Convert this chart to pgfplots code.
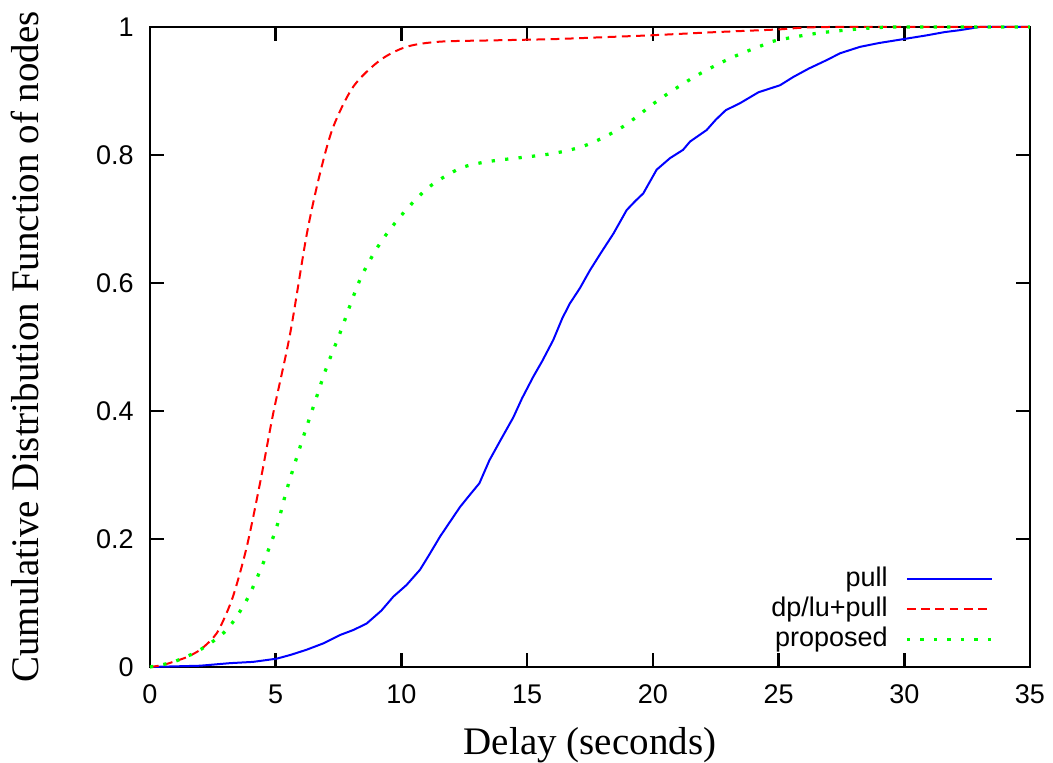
\documentclass[border=0pt]{standalone}
\usepackage{fontspec}
\setmainfont{Liberation Serif}
\setsansfont{Liberation Sans}
\usepackage{pgfplots}
\pgfplotsset{compat=1.18}
\begin{document}
\begin{tikzpicture}
\path[use as bounding box] (-60pt,-38.4pt) rectangle (361.2pt,266.8pt);
\begin{axis}[
  at={(0pt,0pt)}, anchor=south west,
  scale only axis, width=352pt, height=256pt,
  xmin=0, xmax=35, ymin=0, ymax=1,
  xtick={0,5,10,15,20,25,30,35},
  ytick={0,0.2,0.4,0.6,0.8,1},
  tick align=inside, major tick length=5.6pt,
  axis line style={line width=1.1pt},
  every tick/.style={black, line width=1pt},
  /pgf/number format/assume math mode=true,
  ticklabel style={font=\sffamily\fontsize{10.8}{12}\selectfont},
  xticklabel style={yshift=-3.5pt},
  yticklabel style={xshift=-3pt},
  xlabel={Delay (seconds)},
  ylabel={Cumulative Distribution Function of nodes},
  every axis x label/.style={at={(axis description cs:0.5,-0.122)}, anchor=center, font=\fontsize{15.6}{18}\selectfont},
  every axis y label/.style={at={(axis description cs:-0.142,0.5)}, anchor=center, rotate=90, font=\fontsize{15.6}{18}\selectfont},
  clip=false,
  legend plot pos=right,
  legend cell align=right,
  legend style={at={(rel axis cs:1,0)}, anchor=south east, xshift=-11.4pt, yshift=2.8pt,
    draw=none, fill=none, row sep=0pt, column sep=6pt,
    nodes={font=\sffamily\fontsize{10.8}{12}\selectfont, inner sep=1pt, text height=7.8pt, text depth=2.2pt}},
  legend image code/.code={\draw[#1] (0pt,0pt) -- (34pt,0pt);},
]
\addplot[color={rgb,255:red,0;green,0;blue,255}, line width=0.8pt] coordinates {
(0,0) (1,0.001) (2,0.002) (3.18,0.006) (4.1,0.008) (5.04,0.013) (5.6,0.019) (6.23,0.027)
(6.9,0.037) (7.56,0.05) (8.1,0.058) (8.62,0.068) (9.2,0.088) (9.68,0.11) (10.2,0.128) (10.74,0.152)
(11.1,0.175) (11.54,0.204) (11.9,0.225) (12.33,0.25) (12.7,0.268) (13.1,0.287) (13.5,0.323)
(13.95,0.355) (14.45,0.39) (14.8,0.42) (15.25,0.454) (15.6,0.478) (16.04,0.511) (16.4,0.545) (16.7,0.568)
(17.1,0.592) (17.5,0.62) (17.95,0.648) (18.43,0.677) (18.96,0.714) (19.3,0.728) (19.62,0.74)
(20.15,0.777) (20.68,0.795) (21.2,0.808) (21.48,0.821) (22.14,0.839) (22.5,0.855) (22.9,0.87)
(23.47,0.881) (24.2,0.898) (25.06,0.909) (25.59,0.922) (26.2,0.935) (26.9,0.948) (27.45,0.959)
(28.24,0.969) (29.0,0.975) (29.8,0.98) (30.9,0.987) (31.6,0.992) (32.2,0.995) (33,1.0) (35,1.0)
};
\addlegendentry{pull}
\addplot[color={rgb,255:red,255;green,0;blue,0}, line width=0.8pt, dash pattern=on 3.5pt off 2.2pt, smooth] coordinates {
(0,0) (0.5,0.003) (1,0.009) (1.5,0.016) (2,0.027) (2.5,0.045) (2.8,0.063)
(3.3,0.11) (3.85,0.188) (4.4,0.292) (4.9,0.396) (5.57,0.52) (6.23,0.675)
(6.76,0.771) (7.29,0.844) (8.09,0.907) (9.15,0.948) (10.2,0.969) (11.5,0.977)
(13.5,0.979) (16,0.981) (18,0.984) (19.9,0.987) (22.5,0.992) (24.9,0.996)
(27,1.0) (35,1.0)
};
\addlegendentry{dp/lu+pull}
\addplot[color={rgb,255:red,0;green,255;blue,0}, line width=1.3pt, dash pattern=on 1.3pt off 4.1pt, smooth] coordinates {
(0,0) (0.93,0.008) (2,0.027) (3.05,0.058) (3.85,0.105) (4.5,0.162) (5.04,0.219)
(5.44,0.277) (5.97,0.344) (6.5,0.407) (7.03,0.469) (7.56,0.522) (8.35,0.605)
(9.15,0.662) (10.07,0.709) (11.1,0.75) (12.33,0.779) (13.5,0.79) (15.97,0.802)
(17.39,0.816) (18.8,0.844) (20.23,0.886) (21.65,0.922) (23.07,0.951) (24.4,0.972)
(24.92,0.979) (26.5,0.99) (28.2,0.997) (29.8,1.0) (35,1.0)
};
\addlegendentry{proposed}
\end{axis}
\end{tikzpicture}
\end{document}
